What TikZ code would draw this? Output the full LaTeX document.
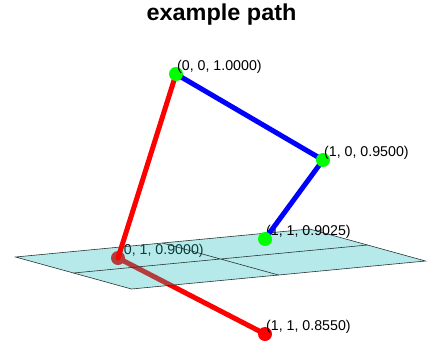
\documentclass[tikz,border=0pt]{standalone}
\usepackage{fontspec}
\setmainfont{Liberation Sans}
\usepackage{tikz}
\definecolor{planefill}{RGB}{28,189,189}
\definecolor{planeedge}{RGB}{40,52,52}

\begin{document}
\begin{tikzpicture}[
  x = 1pt, y = 1pt,
  every node/.style = {inner sep=0pt},
  ptlabel/.style = {anchor=south west, xshift=1pt, font=\fontsize{14.2}{16}\selectfont},
  seg/.style = {line width=5pt, line cap=round, line join=round},
  dot/.style = {circle, minimum size=14pt},
  plane/.style = {fill=planefill, fill opacity=0.32, draw=planeedge, line width=0.6pt}
]
  \useasboundingbox (0,0) rectangle (429,345);
  \node[anchor=base, font=\bfseries\fontsize{23}{26}\selectfont, xscale=1.02] (title) at (221.5,324.3) {example path};
  \begin{scope}[shift={(176,-1729)}, x={(147pt,14pt)}, y={(-58pt,16pt)}, z={(0pt,2000pt)}]
    \coordinate (p1) at (0,0,1.0000);
    \coordinate (p2) at (1,0,0.9500);
    \coordinate (p3) at (1,1,0.9025);
    \coordinate (p4) at (0,1,0.9000);
    \coordinate (p5) at (1,1,0.8550);
    % plane z = 0.9
    \coordinate (c1) at (-0.5,-0.5,0.9);
    \coordinate (c2) at (1.5,-0.5,0.9);
    \coordinate (c3) at (1.5,1.5,0.9);
    \coordinate (c4) at (-0.5,1.5,0.9);
    \coordinate (gx1) at (0.5,-0.5,0.9);
    \coordinate (gx2) at (0.5,1.5,0.9);
    \coordinate (gy1) at (-0.5,0.5,0.9);
    \coordinate (gy2) at (1.5,0.5,0.9);
    % below the plane
    \node[ptlabel] (l4) at (p4) {(0, 1, 0.9000)};
    \draw[seg, red] (p4) -- (p5);
    \node[dot, fill=red] (d5) at (p5) {};
    \node[dot, fill=red] (d4) at (p4) {};
    \path[plane] (c1) -- (c2) -- (c3) -- (c4) -- cycle;
    \draw[planeedge, line width=0.6pt] (gx1) -- (gx2) (gy1) -- (gy2);
    % above the plane
    \draw[seg, red] (p1) -- (p4);
    \node[ptlabel] (l3) at (p3) {(1, 1, 0.9025)};
    \draw[seg, blue] (p1) -- (p2) -- (p3);
    \node[dot, fill=green] (d1) at (p1) {};
    \node[dot, fill=green] (d2) at (p2) {};
    \node[dot, fill=green] (d3) at (p3) {};
    \node[ptlabel] (l1) at (p1) {(0, 0, 1.0000)};
    \node[ptlabel] (l2) at (p2) {(1, 0, 0.9500)};
    \node[ptlabel] (l5) at (p5) {(1, 1, 0.8550)};
  \end{scope}
\end{tikzpicture}
\end{document}
